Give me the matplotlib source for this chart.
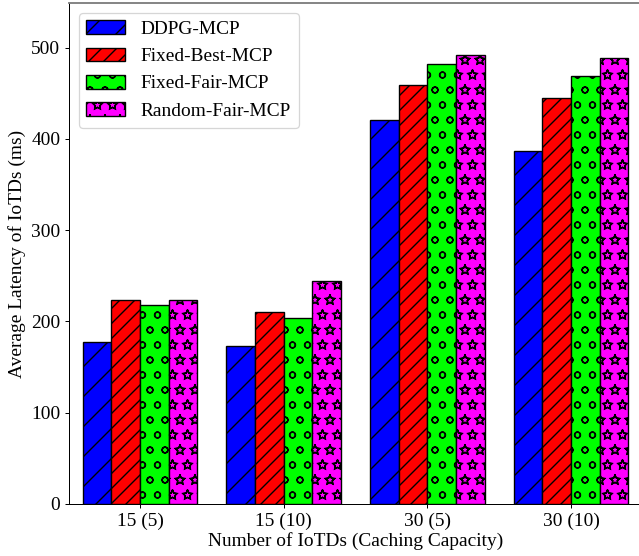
import matplotlib
matplotlib.use("Agg")
import matplotlib.pyplot as plt
import matplotlib.hatch as mhatch
import numpy as np

categories = ["15 (5)", "15 (10)", "30 (5)", "30 (10)"]
series_names = ["DDPG-MCP", "Fixed-Best-MCP", "Fixed-Fair-MCP", "Random-Fair-MCP"]
ddpg = [178, 173, 421, 387]
fixed_best = [223, 210, 459, 445]
fixed_fair = [218, 204, 482, 469]
random_fair = [224, 244, 492, 489]
values = [ddpg, fixed_best, fixed_fair, random_fair]
colors = ["#0000FF", "#FF0000", "#00FF00", "#FF00FF"]
hatches = ["/", "//", "o", "*"]

# outlined (unfilled) star hatch as in the reference
mhatch.Stars.filled = False

plt.rcParams['font.family'] = ['Liberation Serif', 'DejaVu Serif']
plt.rcParams['hatch.linewidth'] = 1.1

DPI = 90
fig = plt.figure(figsize=(639 / DPI, 556 / DPI), dpi=DPI)
ax = fig.add_axes([69 / 639, 52 / 556, 573 / 639, 501 / 556])

x = np.arange(len(categories))
w = 0.2
for i, (vals, c, h, name) in enumerate(zip(values, colors, hatches, series_names)):
    ax.bar(x + (i - 1.5) * w, vals, w, color=c, edgecolor="black", hatch=h,
           linewidth=1.1, label=name)

ax.set_xlim(-0.494, 3.494)
ax.set_ylim(0, 549)
ax.set_xticks(x)
ax.set_xticklabels(categories)
ax.set_yticks([0, 100, 200, 300, 400, 500])
ax.tick_params(labelsize=15.5)
ax.set_xlabel("Number of IoTDs (Caching Capacity)", fontsize=15.5, labelpad=2)
ax.set_ylabel("Average Latency of IoTDs (ms)", fontsize=15.5)
ax.spines['top'].set_color('#808080')
ax.spines['top'].set_linewidth(1.5)
ax.spines['right'].set_visible(False)

ax.legend(loc="upper left", fontsize=15.5)

fig.savefig("out.png", dpi=DPI)
